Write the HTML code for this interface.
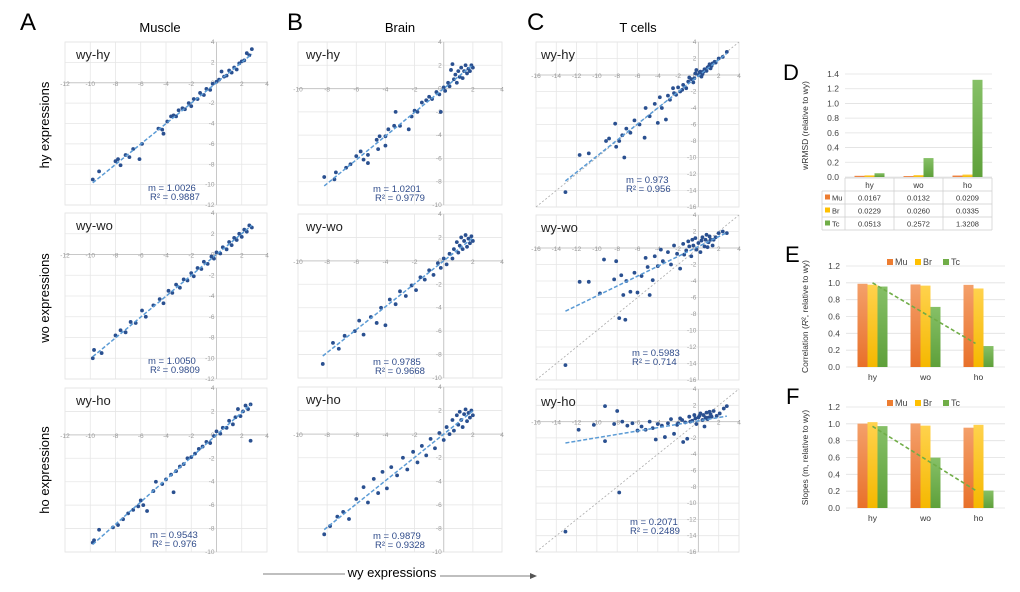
<!DOCTYPE html>
<html><head><meta charset="utf-8"><style>
body{margin:0;background:#fff;width:1020px;height:592px;overflow:hidden;font-family:"Liberation Sans",sans-serif}
svg{position:absolute;left:0;top:0}
</style></head><body>
<svg id="fig" width="1020" height="592" viewBox="0 0 1020 592">
<defs>
<linearGradient id="gMu" x1="0" y1="0" x2="0" y2="1"><stop offset="0" stop-color="#F4A06A"/><stop offset="1" stop-color="#E8702A"/></linearGradient>
<linearGradient id="gBr" x1="0" y1="0" x2="0" y2="1"><stop offset="0" stop-color="#FFD24D"/><stop offset="1" stop-color="#F5B800"/></linearGradient>
<linearGradient id="gTc" x1="0" y1="0" x2="0" y2="1"><stop offset="0" stop-color="#86C067"/><stop offset="1" stop-color="#5EA03A"/></linearGradient>
</defs>
<g font-family="Liberation Sans, sans-serif">
<text x="20" y="30" font-size="24">A</text>
<text x="287" y="30" font-size="24">B</text>
<text x="527" y="30" font-size="24">C</text>
<text x="160" y="32" font-size="13" text-anchor="middle">Muscle</text>
<text x="400" y="32" font-size="13" text-anchor="middle">Brain</text>
<text x="638" y="32" font-size="13" text-anchor="middle">T cells</text>
<text transform="translate(49,125) rotate(-90)" font-size="13" text-anchor="middle">hy expressions</text>
<text transform="translate(49,298) rotate(-90)" font-size="13" text-anchor="middle">wo expressions</text>
<text transform="translate(49,470) rotate(-90)" font-size="13" text-anchor="middle">ho expressions</text>
<text x="392" y="577" font-size="13" text-anchor="middle">wy expressions</text>
<line x1="263" y1="574" x2="345" y2="574" stroke="#555" stroke-width="0.8"/>
<line x1="440" y1="576" x2="532" y2="576" stroke="#555" stroke-width="0.8"/>
<polygon points="537,576 530,573 530,579" fill="#555"/>
<text x="783" y="80" font-size="22">D</text>
<text x="785" y="262" font-size="22">E</text>
<text x="786" y="404" font-size="22">F</text>
</g>
<g id="plots"></g>
</svg>
<script>
const a1Pts=[[-9.8,-9.5],[-9.3,-8.7],[-8,-7.7],[-7.8,-7.5],[-7.6,-8.1],[-7.2,-7.1],[-6.9,-7.3],[-6.6,-6.5],[-6.1,-7.5],[-5.9,-6.0],[-4.6,-4.5],[-4.3,-4.6],[-4.2,-5.0],[-3.9,-3.8],[-3.6,-3.3],[-3.4,-3.2],[-3.2,-3.3],[-3.0,-2.7],[-2.7,-2.5],[-2.5,-2.6],[-2.2,-2.0],[-2.0,-2.3],[-1.8,-1.6],[-1.5,-1.6],[-1.3,-1.0],[-1.0,-1.2],[-0.8,-0.6],[-0.5,-0.7],[-0.3,-0.1],[0,0.1],[0.2,0.3],[0.4,1.1],[0.6,0.6],[0.8,0.7],[1.0,1.2],[1.2,1.0],[1.4,1.5],[1.6,1.3],[1.8,1.9],[2.0,2.1],[2.2,2.2],[2.4,2.9],[2.6,2.7],[2.8,3.3]];
const a2Pts=[[-9.8,-10],[-9.7,-9.2],[-9.1,-9.5],[-8,-7.8],[-7.6,-7.3],[-7.2,-7.5],[-6.8,-6.5],[-6.4,-6.6],[-5.9,-5.4],[-5.6,-6.0],[-5.0,-4.9],[-4.5,-4.3],[-4.2,-4.7],[-3.8,-3.5],[-3.5,-3.7],[-3.2,-2.9],[-2.9,-3.2],[-2.6,-2.4],[-2.3,-2.5],[-2.0,-1.8],[-1.8,-2.1],[-1.5,-1.3],[-1.2,-1.4],[-1.0,-0.7],[-0.7,-0.9],[-0.4,-0.2],[-0.2,-0.4],[0,0.2],[0.3,0.1],[0.5,0.7],[0.8,0.5],[1.0,1.2],[1.2,0.9],[1.4,1.6],[1.6,1.4],[1.8,2.0],[2.0,1.7],[2.2,2.4],[2.4,2.2],[2.6,2.8],[2.8,2.6]];
const a3Pts=[[-9.8,-9.2],[-9.7,-9.0],[-9.3,-8.1],[-8.2,-7.9],[-7.8,-7.7],[-7.4,-7.2],[-7.0,-6.7],[-6.6,-6.4],[-6.2,-6.1],[-6.0,-5.6],[-5.8,-6.0],[-5.5,-6.5],[-5.0,-4.8],[-4.8,-4.0],[-4.3,-4.2],[-4.0,-3.8],[-3.6,-3.4],[-3.4,-4.9],[-3.2,-3.1],[-2.9,-2.7],[-2.6,-2.5],[-2.3,-2.0],[-2.0,-1.9],[-1.7,-1.6],[-1.4,-1.2],[-1.1,-1.0],[-0.8,-0.6],[-0.5,-0.7],[-0.2,-0.1],[0,0.3],[0.3,0.1],[0.5,0.6],[0.8,0.6],[1.0,1.2],[1.3,0.9],[1.5,1.5],[1.7,2.2],[1.9,1.6],[2.1,2.0],[2.3,2.5],[2.5,2.2],[2.7,-0.5],[2.7,2.6]];
const b1Pts=[[-8.2,-7.6],[-7.4,-7.2],[-7.5,-7.8],[-6.7,-6.8],[-6.4,-6.5],[-6,-5.8],[-5.7,-5.4],[-5.5,-6.1],[-5.2,-5.7],[-5.2,-6.4],[-4.6,-4.4],[-4.4,-4.1],[-4.5,-5.2],[-4,-4.1],[-4.0,-4.9],[-3.8,-3.5],[-3.4,-3.2],[-3.3,-2.0],[-3.0,-3.2],[-2.4,-3.5],[-2.2,-2.4],[-2.0,-1.9],[-1.8,-2.0],[-1.5,-1.2],[-1.2,-1.0],[-1,-0.7],[-0.8,-0.9],[-0.5,-0.3],[-0.3,-0.5],[-0.2,-2.0],[0,0.1],[0.1,-0.2],[0.3,0.5],[0.4,0.2],[0.5,1.6],[0.6,2.1],[0.7,0.8],[0.8,1.2],[0.9,0.5],[1.0,1.5],[1.1,1.0],[1.2,1.8],[1.3,0.9],[1.4,1.5],[1.5,2.0],[1.6,1.3],[1.7,1.7],[1.8,1.5],[1.9,2.0],[2.0,1.8]];
const b2Pts=[[-8.3,-8.8],[-7.6,-7.0],[-7.2,-7.5],[-6.8,-6.4],[-6.1,-6.0],[-5.8,-5.1],[-5.5,-6.3],[-5.0,-4.8],[-4.6,-5.3],[-4.3,-4.0],[-4.0,-5.5],[-3.7,-3.3],[-3.3,-3.7],[-3.0,-2.6],[-2.6,-3.0],[-2.2,-2.1],[-1.9,-2.5],[-1.6,-1.4],[-1.3,-1.6],[-1.0,-0.8],[-0.7,-1.2],[-0.4,-0.2],[-0.2,-0.6],[0,0.2],[0.2,-0.3],[0.4,0.6],[0.6,0.2],[0.7,1.0],[0.9,1.6],[1.0,0.7],[1.1,1.3],[1.2,2.0],[1.3,1.0],[1.4,1.7],[1.5,2.2],[1.6,1.2],[1.7,1.9],[1.8,1.5],[1.9,2.1],[2.0,1.7]];
const b3Pts=[[-8.2,-8.5],[-7.8,-7.8],[-7.3,-7.0],[-6.9,-6.6],[-6.5,-7.2],[-6.0,-5.5],[-5.5,-4.5],[-5.2,-5.8],[-4.8,-3.8],[-4.5,-5.0],[-4.2,-3.2],[-3.9,-4.6],[-3.6,-2.8],[-3.2,-3.5],[-2.8,-2.0],[-2.5,-3.0],[-2.1,-1.5],[-1.8,-2.4],[-1.5,-1.0],[-1.2,-1.8],[-0.9,-0.4],[-0.6,-1.2],[-0.3,0.1],[0,-0.5],[0.2,0.6],[0.4,0.0],[0.6,1.2],[0.7,0.3],[0.9,1.6],[1.0,0.8],[1.1,1.9],[1.2,1.2],[1.3,0.6],[1.4,1.7],[1.5,2.1],[1.6,1.1],[1.7,1.8],[1.8,1.4],[1.9,2.0],[2.0,1.6]];
const c1Pts=[[-13.1,-14.2],[-11.7,-9.7],[-10.8,-9.5],[-9.1,-8.0],[-8.8,-7.7],[-8.2,-5.9],[-8.1,-8.7],[-7.8,-8.0],[-7.5,-7.3],[-7.3,-10.0],[-7.1,-6.5],[-6.7,-7.0],[-6.3,-5.5],[-5.8,-6.0],[-5.3,-7.6],[-5.2,-4.0],[-4.8,-5.0],[-4.3,-3.5],[-4.0,-5.8],[-3.8,-2.7],[-3.6,-4.0],[-3.2,-5.4],[-3.0,-2.5],[-2.8,-3.0],[-2.5,-1.6],[-2.2,-2.4],[-2.0,-1.5],[-1.8,-2.0],[-1.5,-1.2],[-1.2,-1.6],[-1.0,-0.8],[-0.7,-0.5],[-0.5,-0.9],[-0.3,0.2],[0,0.0],[0.2,0.4],[0.4,0.1],[0.6,0.7],[0.8,0.5],[1.0,1.0],[1.2,0.8],[1.4,1.4],[1.7,1.5],[2.0,2.0],[2.4,2.2],[2.8,2.8],[-0.9,-0.3],[-0.4,-0.4],[0.1,0.3],[0.5,0.4],[0.9,0.9],[1.3,1.1],[-1.6,-1.8],[-2.4,-2.2],[-0.2,0.6],[0.3,-0.2],[1.1,1.3],[1.6,1.6]];
const c2Pts=[[-13.1,-14.2],[-11.7,-4.1],[-10.8,-4.1],[-9.7,-5.5],[-9.3,-1.4],[-8.3,-3.8],[-8.1,-1.6],[-7.8,-8.5],[-7.6,-3.3],[-7.4,-5.7],[-7.2,-8.7],[-7.1,-4.0],[-6.7,-5.3],[-6.3,-3.0],[-6.0,-5.4],[-5.6,-3.4],[-5.2,-1.2],[-5.0,-2.3],[-4.8,-5.7],[-4.5,-3.9],[-4.3,-1.0],[-4.0,-2.2],[-3.7,-0.2],[-3.5,-1.6],[-3.0,-0.5],[-2.7,-2.0],[-2.4,0.3],[-2.1,-0.7],[-1.8,-2.5],[-1.5,0.5],[-1.2,-0.3],[-1.0,0.8],[-0.7,-1.0],[-0.5,0.3],[-0.3,1.2],[0,0.6],[0.2,-0.5],[0.4,1.3],[0.6,0.2],[0.8,1.6],[1.0,0.7],[1.2,1.0],[1.4,0.3],[1.7,1.3],[2.0,1.8],[2.4,2.0],[2.8,1.8],[-0.9,0.2],[-0.2,-0.2],[0.3,0.9],[0.7,1.0],[1.1,1.4],[-1.4,-0.8],[-0.6,1.0],[0.9,0.1],[1.5,1.0]];
const c3Pts=[[-13.1,-13.5],[-11.8,-1.0],[-10.3,-0.4],[-9.2,1.9],[-9.2,-2.4],[-8.3,-0.3],[-8.0,1.3],[-7.8,-8.7],[-7.5,0.0],[-7.0,-0.5],[-6.5,-0.2],[-6.0,-1.1],[-5.6,-0.6],[-5.2,-1.0],[-4.8,0.0],[-4.5,-0.8],[-4.2,-2.2],[-4.0,-0.3],[-3.6,-0.5],[-3.3,-1.9],[-3.0,-0.2],[-2.7,0.3],[-2.4,-1.5],[-2.1,-0.4],[-1.8,0.4],[-1.5,-2.5],[-1.3,-0.1],[-1.1,-2.1],[-0.9,0.6],[-0.6,0.1],[-0.4,0.8],[-0.2,-0.3],[0,0.5],[0.2,1.0],[0.4,0.2],[0.6,-0.6],[0.8,1.1],[1.0,0.5],[1.2,0.9],[1.5,1.3],[1.8,0.7],[2.1,1.0],[2.5,1.6],[2.8,1.9],[-0.8,0.0],[-0.3,0.4],[0.1,0.7],[0.5,0.8],[0.9,0.3],[1.3,0.6],[-1.6,0.2],[-2.0,-0.2],[0.7,0.5],[1.1,1.2]];
const slopes=[1.0026,1.0050,0.9543,1.0201,0.9785,0.9879,0.973,0.5983,0.2071];
const intercepts=[0.0,0.0,0.0,0.0,0.0,0.0,-0.1,0.18,0.09];
const r2Labels=["0.9887","0.9809","0.976","0.9779","0.9668","0.9328","0.956","0.714","0.2489"];
const slopeLabels=["1.0026","1.0050","0.9543","1.0201","0.9785","0.9879","0.973","0.5983","0.2071"];
const pairLabels=["wy-hy","wy-wo","wy-ho"];
const barCats=["hy","wo","ho"];
const seriesNames=["Mu","Br","Tc"];
const wrmsdMu=[0.0167,0.0132,0.0209];
const wrmsdBr=[0.0229,0.0260,0.0335];
const wrmsdTc=[0.0513,0.2572,1.3208];
const wrmsdTicks=[0,0.2,0.4,0.6,0.8,1.0,1.2,1.4];
const corrMu=[0.9887,0.9809,0.976];
const corrBr=[0.9779,0.9668,0.9328];
const corrTc=[0.956,0.714,0.2489];
const corrTrend=[1.0,0.28];
const slopeMu=[1.0026,1.0050,0.9543];
const slopeBr=[1.0201,0.9785,0.9879];
const slopeTc=[0.973,0.5983,0.2071];
const slopeTrend=[0.97,0.21];
const efTicks=[0,0.2,0.4,0.6,0.8,1.0,1.2];

const NS="http://www.w3.org/2000/svg";
const root=document.getElementById('plots');
function mk(tag,attrs,parent){const e=document.createElementNS(NS,tag);for(const k in attrs)e.setAttribute(k,attrs[k]);(parent||root).appendChild(e);return e;}

const allPts=[a1Pts,a2Pts,a3Pts,b1Pts,b2Pts,b3Pts,c1Pts,c2Pts,c3Pts];
const cols=[{x0:65,x1:267,xmin:-12,xmax:4},{x0:298,x1:502,xmin:-10,xmax:4},{x0:536,x1:739,xmin:-16,xmax:4}];
const rowsByCol=[
 [{y0:42,y1:205,ymin:-12},{y0:213,y1:379,ymin:-12},{y0:388,y1:552,ymin:-10}],
 [{y0:42,y1:205,ymin:-10},{y0:214,y1:378,ymin:-10},{y0:387,y1:552,ymin:-10}],
 [{y0:42,y1:207,ymin:-16},{y0:215,y1:380,ymin:-16},{y0:389,y1:552,ymin:-16}]];
const annPos=[[148,191],[148,364],[150,538],[373,192],[373,365],[373,539],[626,183],[632,356],[630,525]];

for(let c=0;c<3;c++)for(let r=0;r<3;r++){
 const idx=c*3+r, C=cols[c], R=rowsByCol[c][r];
 const ymax=4;
 const sx=v=>C.x0+(v-C.xmin)/(C.xmax-C.xmin)*(C.x1-C.x0);
 const sy=v=>R.y0+(ymax-v)/(ymax-R.ymin)*(R.y1-R.y0);
 const g=mk('g',{});
 
 
 mk('rect',{x:C.x0,y:R.y0,width:C.x1-C.x0,height:R.y1-R.y0,fill:'#fff',stroke:'#e3e3e3','stroke-width':0.8},g);
 for(let v=C.xmin;v<=C.xmax;v+=2){const l=mk('line',{x1:sx(v),x2:sx(v),y1:R.y0,y2:R.y1,stroke:'#e6e6e6','stroke-width':0.8},g);}
 for(let v=R.ymin;v<=ymax;v+=2){const l=mk('line',{x1:C.x0,x2:C.x1,y1:sy(v),y2:sy(v),stroke:'#e6e6e6','stroke-width':0.8},g);}
 mk('line',{x1:C.x0,x2:C.x1,y1:sy(0),y2:sy(0),stroke:'#c8c8c8','stroke-width':1},g);
 mk('line',{x1:sx(0),x2:sx(0),y1:R.y0,y2:R.y1,stroke:'#c8c8c8','stroke-width':1},g);
 for(let v=C.xmin;v<=C.xmax;v+=2){if(v===0)continue;const t=mk('text',{x:sx(v),y:sy(0)+3,'font-size':6.5,fill:'#999','text-anchor':'middle'},g);t.textContent=v;}
 for(let v=R.ymin;v<=ymax;v+=2){const t=mk('text',{x:sx(0)-2,y:sy(v)+2,'font-size':6.5,fill:'#999','text-anchor':'end'},g);t.textContent=v;}
 if(c===2){const d=mk('line',{x1:sx(-16),y1:sy(-16),x2:sx(4),y2:sy(4),stroke:'#aaa','stroke-width':0.8,'stroke-dasharray':'2,2'},g);}
 const pts=allPts[idx];
 for(const p of pts){const e=mk('circle',{cx:sx(p[0]),cy:sy(p[1]),r:1.9,fill:'#2A5090'},g);}
 let xs=pts.map(p=>p[0]);const xa=Math.min(...xs),xb=Math.max(...xs);
 const m=slopes[idx],b=intercepts[idx];
 const tl=mk('line',{x1:sx(xa),y1:sy(m*xa+b),x2:sx(xb),y2:sy(m*xb+b),stroke:'#5B9BD5','stroke-width':1.5,'stroke-dasharray':'4,2'},g);
 
 const lab=mk('text',{x:C.x0+(c===0?11:c===1?8:5),y:R.y0+17,'font-size':13,fill:'#222'},g);lab.textContent=pairLabels[r];
 
 const t1=mk('text',{x:annPos[idx][0],y:annPos[idx][1],'font-size':9.5,fill:'#2F4B8A'},g);t1.textContent='m = '+slopeLabels[idx];
 
 const t2=mk('text',{x:annPos[idx][0]+(idx>=6?0:2),y:annPos[idx][1]+9,'font-size':9.5,fill:'#2F4B8A'},g);t2.textContent='R² = '+r2Labels[idx];
 
}

const fills=['url(#gMu)','url(#gBr)','url(#gTc)'];
const solid=['#ED7D31','#FFC000','#70AD47'];
function barChart(name,cfg,series,ticks,trend){
 const g=mk('g',{});
 
 
 const sy=v=>cfg.yb-(v/cfg.vmax)*(cfg.yb-cfg.yt);
 const gw=(cfg.x1-cfg.x0)/barCats.length;
 for(const v of ticks){mk('line',{x1:cfg.x0,x2:cfg.x1,y1:sy(v),y2:sy(v),stroke:'#e0e0e0','stroke-width':0.8},g);
  const t=mk('text',{x:cfg.x0-6,y:sy(v)+3,'font-size':8.5,fill:'#444','text-anchor':'end'},g);t.textContent=v.toFixed(1);
  }
 barCats.forEach((cat,i)=>{
  const cx=cfg.x0+gw*(i+0.5);
  series.forEach((s,j)=>{const x=cx-15+j*10;const bar=mk('rect',{x:x,y:sy(s[i]),width:10,height:Math.max(0.8,cfg.yb-sy(s[i])),fill:fills[j]},g);
   });
  if(!cfg.table){const t=mk('text',{x:cx,y:cfg.yb+13,'font-size':8.5,fill:'#333','text-anchor':'middle'},g);t.textContent=cat;
   }
 });
 if(trend){const xa=cfg.x0+gw*0.5,xb=cfg.x0+gw*2.5-3;
  const l=mk('line',{x1:xa,y1:sy(trend[0]),x2:xb,y2:sy(trend[1]),stroke:'#70AD47','stroke-width':1.6,'stroke-dasharray':'4,2.5'},g);
  }
 const yt=mk('text',{transform:`translate(${cfg.titleX},${(cfg.yt+cfg.yb)/2}) rotate(-90)`,'font-size':8.5,fill:'#333','text-anchor':'middle'},g);
 yt.innerHTML=cfg.title;
 if(cfg.legendY){seriesNames.forEach((n,j)=>{const lx=cfg.legendX+j*28;
  const sq=mk('rect',{x:lx,y:cfg.legendY-6,width:6,height:6,fill:solid[j]},g);
  const t=mk('text',{x:lx+8,y:cfg.legendY,'font-size':9,fill:'#444'},g);t.textContent=n;});}
 if(cfg.table){const tl=822,rowY=[178,191,204,217];
  const cw=gw;
  for(let k=0;k<4;k++){mk('line',{x1:k===0?cfg.x0:tl,x2:cfg.x1,y1:rowY[k],y2:rowY[k],stroke:'#ccc','stroke-width':0.7},g);}
  mk('line',{x1:tl,x2:cfg.x1,y1:230,y2:230,stroke:'#ccc','stroke-width':0.7},g);
  for(let i=0;i<=3;i++){mk('line',{x1:cfg.x0+cw*i,x2:cfg.x0+cw*i,y1:178,y2:230,stroke:'#ccc','stroke-width':0.7},g);}
  mk('line',{x1:tl,x2:tl,y1:191,y2:230,stroke:'#ccc','stroke-width':0.7},g);
  barCats.forEach((cat,i)=>{const t=mk('text',{x:cfg.x0+cw*(i+0.5),y:188,'font-size':8,fill:'#333','text-anchor':'middle'},g);t.textContent=cat;});
  series.forEach((s,j)=>{const y=rowY[j+1]+9.5;
   const sq=mk('rect',{x:tl+3,y:y-6,width:5,height:5,fill:solid[j]},g);
   const nt=mk('text',{x:tl+10,y:y,'font-size':7.5,fill:'#333'},g);nt.textContent=seriesNames[j];
   s.forEach((v,i)=>{const t=mk('text',{x:cfg.x0+cw*(i+0.5),y:y,'font-size':7.5,fill:'#333','text-anchor':'middle'},g);t.textContent=v.toFixed(4);});
  });}
}
barChart('chart-wrmsd',{x0:845,x1:992,yt:74,yb:177,vmax:1.4,titleX:808,title:'wRMSD (relative to wy)',table:true},[wrmsdMu,wrmsdBr,wrmsdTc],wrmsdTicks,null);
barChart('chart-correlation',{x0:846,x1:1005,yt:266,yb:367,vmax:1.2,titleX:808,title:'Correlation (<tspan font-style="italic">R</tspan>², relative to wy)',legendY:265,legendX:887},[corrMu,corrBr,corrTc],efTicks,corrTrend);
barChart('chart-slopes',{x0:846,x1:1005,yt:407,yb:508,vmax:1.2,titleX:808,title:'Slopes (m, relative to wy)',legendY:406,legendX:887},[slopeMu,slopeBr,slopeTc],efTicks,slopeTrend);
</script>
</body></html>
